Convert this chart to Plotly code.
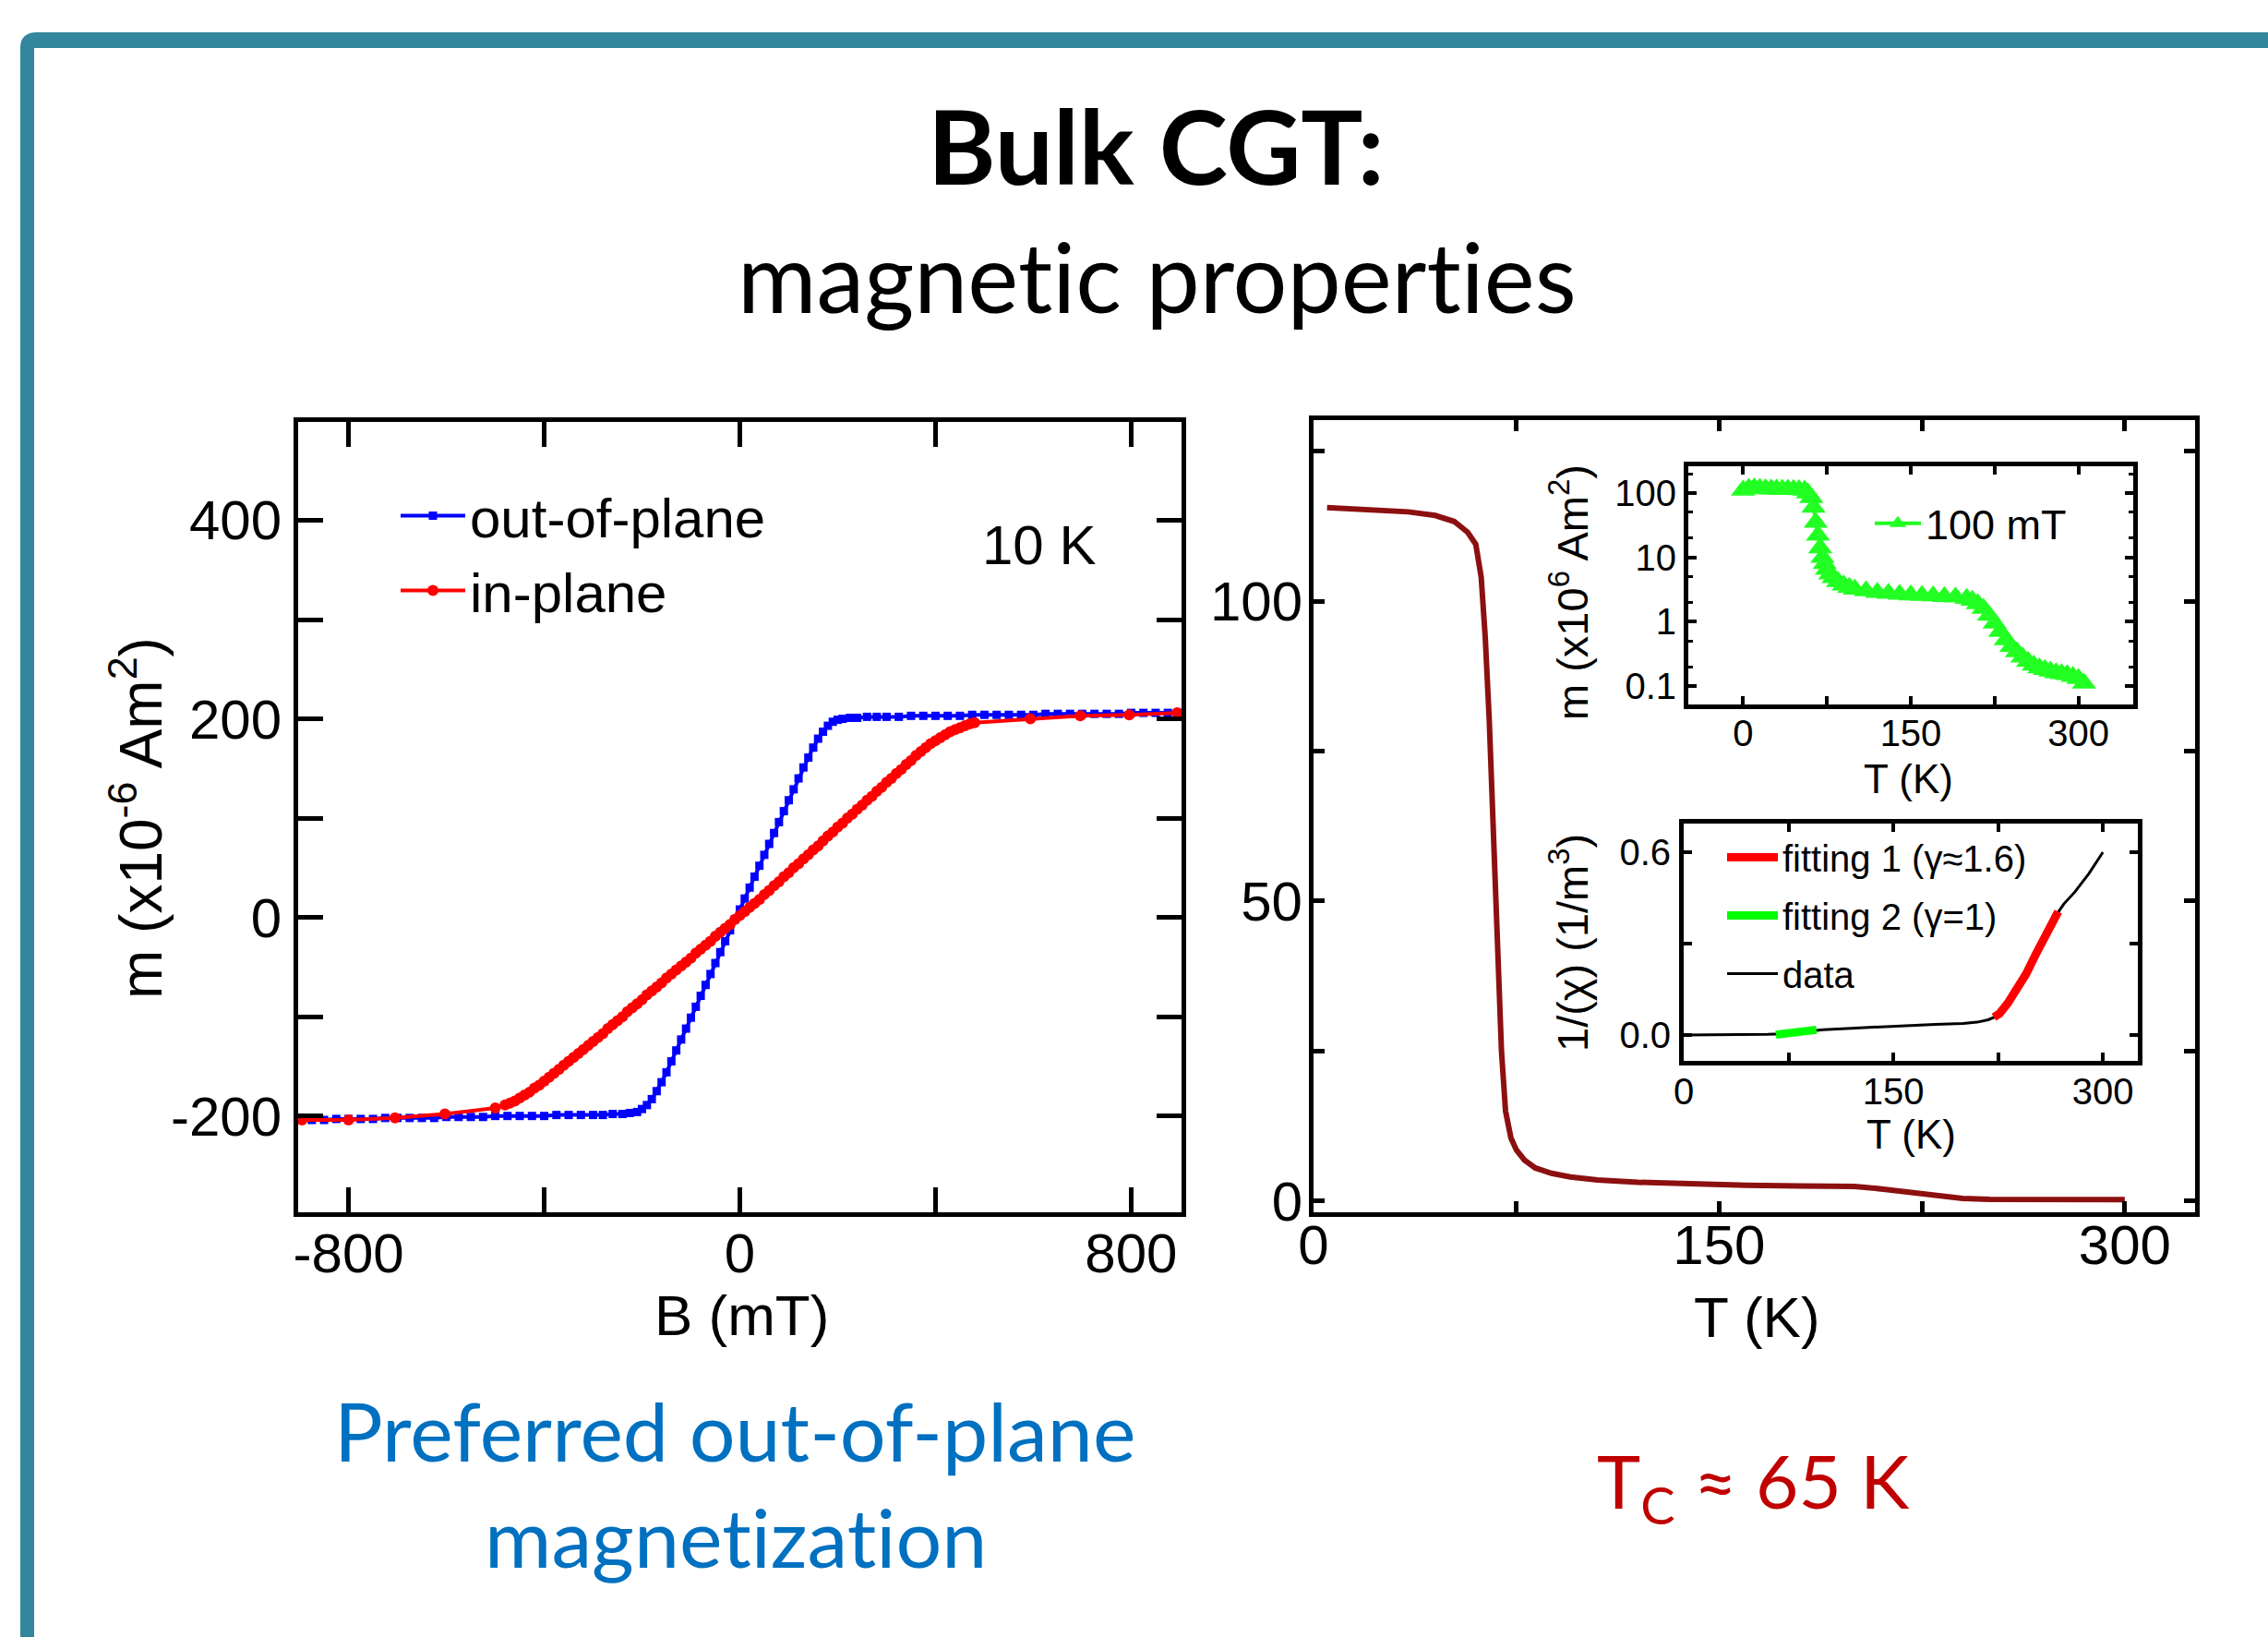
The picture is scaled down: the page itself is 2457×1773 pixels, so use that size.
import plotly.graph_objects as go

W, H = 2457, 1773

# ---------------- data: left panel, m vs B at 10 K ----------------
B_oop = [-900, -875, -850, -825, -800, -775, -750, -725, -700, -675, -650, -625, -600, -575, -550, -525,
         -500, -475, -450, -425, -400, -375, -350, -325, -300,
         -280, -260, -240, -225,
         -210, -200, -190, -180, -170, -160, -150, -140, -130, -120, -110, -100, -90, -80, -70, -60, -50,
         -40, -30, -20, -10, 0, 10, 20, 30, 40, 50, 60, 70, 80, 90, 100, 110, 120, 130, 140, 150, 160, 170,
         180, 190, 200, 210,
         225, 240, 260, 280,
         300, 325, 350, 375, 400, 425, 450, 475, 500, 525, 550, 575, 600, 625, 650, 675, 700, 725, 750, 775,
         800, 825, 850, 875, 900]
m_oop = [-204, -204, -204, -203, -203, -203, -203, -202, -202, -202, -202, -202, -201, -201, -201, -201,
         -200, -200, -200, -200, -200, -199, -199, -199, -199,
         -199, -198, -198, -197,
         -196, -193, -189, -183, -175, -166, -156, -145, -134, -123, -112, -101, -90, -79, -68, -57, -46,
         -35, -24, -13, -2, 8, 19, 30, 41, 52, 63, 74, 85, 96, 107, 118, 129, 140, 151, 161, 171, 180, 187,
         193, 197, 199, 200,
         201, 201, 202, 202,
         202, 202, 203, 203, 203, 203, 203, 204, 204, 204, 204, 204, 204, 205, 205, 205, 205, 205, 205, 205,
         206, 206, 206, 206, 206]

B_ip = [-895, -800, -705, -603, -500,
        -480, -470, -460, -450, -440, -430, -420, -410, -400, -390, -380, -370, -360, -350, -340, -330,
        -320, -310, -300, -290, -280, -270, -260, -250, -240, -230, -220, -210, -200, -190, -180, -170,
        -160, -150, -140, -130, -120, -110, -100, -90, -80, -70, -60, -50, -40, -30, -20, -10,
        0, 10, 20, 30, 40, 50, 60, 70, 80, 90, 100, 110, 120, 130, 140, 150, 160, 170, 180, 190,
        200, 210, 220, 230, 240, 250, 260, 270, 280, 290, 300, 310, 320, 330, 340, 350, 360, 370,
        380, 390, 400, 410, 420, 430, 440, 450, 460, 470, 480,
        594, 696, 796, 894]
m_ip = [-204, -204, -202, -198, -192,
        -189, -187, -185, -182, -179, -176, -172, -169, -165, -161, -157, -153, -149, -145, -141, -137,
        -133, -129, -125, -121, -117, -112, -108, -104, -100, -95, -91, -87, -83, -78, -74, -70,
        -66, -61, -57, -53, -49, -45, -41, -36, -32, -28, -24, -19, -15, -11, -7, -2,
        2, 6, 10, 14, 18, 23, 27, 32, 36, 41, 45, 50, 54, 59, 63, 68, 72, 77, 82, 86,
        91, 95, 100, 104, 109, 113, 118, 122, 127, 131, 136, 140, 145, 149, 154, 158, 163, 167,
        171, 175, 178, 181, 184, 187, 189, 191, 193, 195, 196,
        200, 203, 204, 206]

# ---------------- data: right panel, m vs T ----------------
T_main = [5, 15, 25, 35, 45, 52, 57, 60, 62, 63.5, 65, 66.5, 68, 69.5, 71, 73, 75, 78, 82, 88, 95, 105,
          120, 140, 160, 180, 200, 210, 220, 230, 240, 250, 260, 280, 300]
m_main = [115.6, 115.4, 115.2, 114.9, 114.3, 113.3, 111.5, 109.5, 104, 94, 80, 61, 40, 25, 15, 10.5, 8.5,
          6.8, 5.5, 4.6, 4.0, 3.5, 3.1, 2.8, 2.6, 2.5, 2.4, 2.0, 1.4, 0.8, 0.4, 0.25, 0.2, 0.2, 0.2]

# inset 1: m (log) vs T at 100 mT
T_100mT = [0, 5, 10, 15, 20, 25, 30, 35, 40, 45, 50, 55, 58, 61, 63, 65, 67, 69, 71, 73, 75, 78, 81, 85,
           90, 95, 100, 110, 120, 130, 140, 150, 160, 170, 180, 190, 200, 205, 210, 215, 220, 225, 230,
           235, 240, 245, 250, 255, 260, 265, 270, 275, 280, 285, 290, 295, 300, 305]
m_100mT = [110, 118, 120, 118, 116, 115, 115, 114, 114, 113, 112, 110, 100, 85, 60, 35, 22, 14, 10, 8,
           6.5, 5.5, 4.8, 4.2, 3.7, 3.4, 3.2, 3.0, 2.85, 2.75, 2.65, 2.6, 2.55, 2.5, 2.45, 2.4, 2.3, 2.15,
           1.9, 1.6, 1.25, 0.95, 0.7, 0.52, 0.41, 0.34, 0.28, 0.24, 0.21, 0.19, 0.18, 0.17, 0.16, 0.155,
           0.15, 0.14, 0.13, 0.11]

# inset 2: 1/chi vs T
T_data = [0, 20, 40, 60, 70, 80, 90, 100, 120, 140, 160, 180, 200, 210, 218, 222, 226, 232, 238, 245,
          252, 259, 266, 272, 280, 290, 300]
chi_inv_data = [0, 0, 0, 0.002, 0.004, 0.008, 0.013, 0.017, 0.022, 0.027, 0.031, 0.035, 0.038, 0.042,
                0.05, 0.058, 0.07, 0.105, 0.147, 0.2, 0.265, 0.33, 0.39, 0.43, 0.47, 0.53, 0.60]
T_fit1 = [222, 226, 232, 238, 245, 252, 259, 266, 268]
chi_inv_fit1 = [0.058, 0.07, 0.105, 0.147, 0.2, 0.265, 0.33, 0.39, 0.405]
T_fit2 = [66, 72, 78, 84, 90, 95]
chi_inv_fit2 = [0.001, 0.003, 0.008, 0.013, 0.015, 0.017]

# tick labels
left_xticks = [-800, -400, 0, 400, 800]
left_xtext = ["-800", "", "0", "", "800"]
left_yticks = [-200, -100, 0, 100, 200, 300, 400]
left_ytext = ["-200", "", "0", "", "200", "", "400"]
main_xticks = [0, 75, 150, 225, 300]
main_xtext = ["0", "", "150", "", "300"]
main_yticks = [0, 25, 50, 75, 100, 125]
main_ytext = ["0", "", "50", "", "100", ""]
in1_yticks = [0.1, 1, 10, 100]
in1_ytext = ["0.1", "1", "10", "100"]
in2_yticks = [0, 0.3, 0.6]
in2_ytext = ["0.0", "", "0.6"]

# ---------------- helpers (pixel -> paper) ----------------
def px(x):
    return x / W


def py(y):
    return 1 - y / H


FONT = "Arial, Liberation Sans, sans-serif"
SLIDE = "Lato, Noto Sans, sans-serif"
ZW = "\u200c"  # keeps t+i from fusing into a ligature

fig = go.Figure()

fig.add_trace(go.Scatter(x=B_oop, y=m_oop, mode="lines+markers", name="out-of-plane",
                         line=dict(color="#0000FF", width=4),
                         marker=dict(symbol="square", size=9, color="#0000FF"),
                         xaxis="x", yaxis="y", legend="legend"))
fig.add_trace(go.Scatter(x=B_ip, y=m_ip, mode="lines+markers", name="in-plane",
                         line=dict(color="#FF0000", width=4),
                         marker=dict(symbol="circle", size=12, color="#FF0000"),
                         xaxis="x", yaxis="y", legend="legend"))

fig.add_trace(go.Scatter(x=T_main, y=m_main, mode="lines", showlegend=False,
                         line=dict(color="#8C1010", width=6),
                         xaxis="x2", yaxis="y2"))

fig.add_trace(go.Scatter(x=T_100mT, y=m_100mT, mode="lines+markers", name="100 mT",
                         line=dict(color="#22FF22", width=4),
                         marker=dict(symbol="triangle-up", size=23, color="#22FF22"),
                         xaxis="x3", yaxis="y3", legend="legend2"))

fig.add_trace(go.Scatter(x=T_data, y=chi_inv_data, mode="lines", name="data", legendrank=3,
                         legendgroup="c",
                         line=dict(color="black", width=3),
                         xaxis="x4", yaxis="y4", legend="legend3"))
fig.add_trace(go.Scatter(x=T_fit1, y=chi_inv_fit1, mode="lines", name="fitting 1 (γ≈1.6)", legendrank=1,
                         legendgroup="a",
                         line=dict(color="#FF0000", width=9),
                         xaxis="x4", yaxis="y4", legend="legend3"))
fig.add_trace(go.Scatter(x=T_fit2, y=chi_inv_fit2, mode="lines", name="fitting 2 (γ=1)", legendrank=2,
                         legendgroup="b",
                         line=dict(color="#00FF00", width=9),
                         xaxis="x4", yaxis="y4", legend="legend3"))


def axis(domain, rng, tickvals, ticktext, anchor, size, ticklen, tickwidth, linewidth, standoff, typ="linear"):
    return dict(domain=domain, range=rng, type=typ, anchor=anchor, automargin=False,
                tickmode="array", tickvals=tickvals, ticktext=ticktext,
                ticks="inside", ticklen=ticklen, tickwidth=tickwidth, tickcolor="black",
                showline=True, linecolor="black", linewidth=linewidth, mirror="ticks",
                showgrid=False, zeroline=False,
                tickfont=dict(family=FONT, size=size, color="black"),
                ticklabelstandoff=standoff)


dl_x = [px(323), px(1280)]
dl_y = [py(1313), py(457)]
dr_x = [px(1423), px(2378)]
dr_y = [py(1313), py(455)]
d1_x = [px(1829), px(2311)]
d1_y = [py(763), py(505)]
d2_x = [px(1824), px(2316)]
d2_y = [py(1149), py(892)]

fig.update_layout(
    width=W, height=H, autosize=False,
    margin=dict(l=0, r=0, t=0, b=0, pad=0, autoexpand=False),
    paper_bgcolor="white", plot_bgcolor="rgba(0,0,0,0)",
    xaxis=axis(dl_x, [-903, 903], left_xticks, left_xtext, "y", 60, 27, 5, 5, -12),
    yaxis=axis(dl_y, [-297, 499], left_yticks, left_ytext, "x", 60, 27, 5, 5, 1),
    xaxis2=axis(dr_x, [0, 326], main_xticks, main_xtext, "y2", 60, 12, 5, 5, -21),
    yaxis2=axis(dr_y, [-1.9, 130.2], main_yticks, main_ytext, "x2", 60, 12, 5, 5, -5),
    xaxis3=axis(d1_x, [-49, 349], main_xticks, main_xtext, "y3", 40, 9, 4, 5, -8),
    yaxis3=axis(d1_y, [-1.287, 2.416], in1_yticks, in1_ytext, "x3", 40, 9, 4, 5, 0, typ="log"),
    xaxis4=axis(d2_x, [0, 325], main_xticks, main_xtext, "y4", 40, 9, 4, 5, -6),
    yaxis4=axis(d2_y, [-0.085, 0.694], in2_yticks, in2_ytext, "x4", 40, 9, 4, 5, 1),
    legend=dict(x=px(429), y=py(513), xanchor="left", yanchor="top", bgcolor="rgba(0,0,0,0)",
                font=dict(family=FONT, size=60, color="black"), itemwidth=70, tracegroupgap=0),
    legend2=dict(x=px(2026), y=py(531), xanchor="left", yanchor="top", bgcolor="rgba(0,0,0,0)",
                 font=dict(family=FONT, size=45, color="black"), itemwidth=50),
    legend3=dict(x=px(1866), y=py(896), xanchor="left", yanchor="top", bgcolor="rgba(0,0,0,0)",
                 font=dict(family=FONT, size=40, color="black"), itemwidth=55, tracegroupgap=8),
    showlegend=True,
)

fig.update_yaxes(minor=dict(tickvals=[0.2, 0.5, 2, 5, 20, 50, 200], ticks="inside", ticklen=5,
                            tickwidth=3, tickcolor="black"), selector=dict(type="log"))

ann = []


def text(x, y, s, size, color="black", family=FONT, angle=0, bold=False):
    if bold:
        s = "<b>" + s + "</b>"
    ann.append(dict(x=px(x), y=py(y), xref="paper", yref="paper", text=s, showarrow=False,
                    xanchor="center", yanchor="middle", textangle=angle,
                    font=dict(family=family, size=size, color=color)))


text(1252, 157, "Bulk CGT:", 112, family=SLIDE, bold=True)
text(1253, 298, "magnet" + ZW + "ic propert" + ZW + "ies", 104, family=SLIDE)
text(796, 1549, "Preferred out-of-plane", 88, color="#0070C0", family=SLIDE)
text(797, 1664, "magnet" + ZW + "izat" + ZW + "ion", 88, color="#0070C0", family=SLIDE)
text(1899, 1609, "T<sub>C</sub> ≈ 65 K", 80, color="#C00000", family=SLIDE)

text(803, 1424, "B (mT)", 62)
text(148, 886, "m (x10<sup>-6</sup> Am<sup>2</sup>)", 64, angle=-90)
text(1125, 591, "10 K", 60)
text(1903, 1426, "T (K)", 62)
text(1700, 642, "m (x10<sup>6</sup> Am<sup>2</sup>)", 47, angle=-90)
text(2067, 843, "T (K)", 44)
text(1700, 1021, "1/(χ) (1/m<sup>3</sup>)", 47, angle=-90)
text(2070, 1228, "T (K)", 44)

fig.update_layout(annotations=ann)

# slide frame (teal bars)
teal = "#33869C"
path = (f"M {px(22)},{py(1773)} L {px(22)},{py(52)} Q {px(22)},{py(35)} {px(40)},{py(35)} "
        f"L {px(2457)},{py(35)} L {px(2457)},{py(52)} L {px(37)},{py(52)} L {px(37)},{py(1773)} Z")
fig.update_layout(shapes=[dict(type="path", path=path, xref="paper", yref="paper",
                               fillcolor=teal, line=dict(width=0), layer="below")])

fig.write_html("out.html", config={"displayModeBar": False},
               post_script="document.body.style.margin='0px';")
